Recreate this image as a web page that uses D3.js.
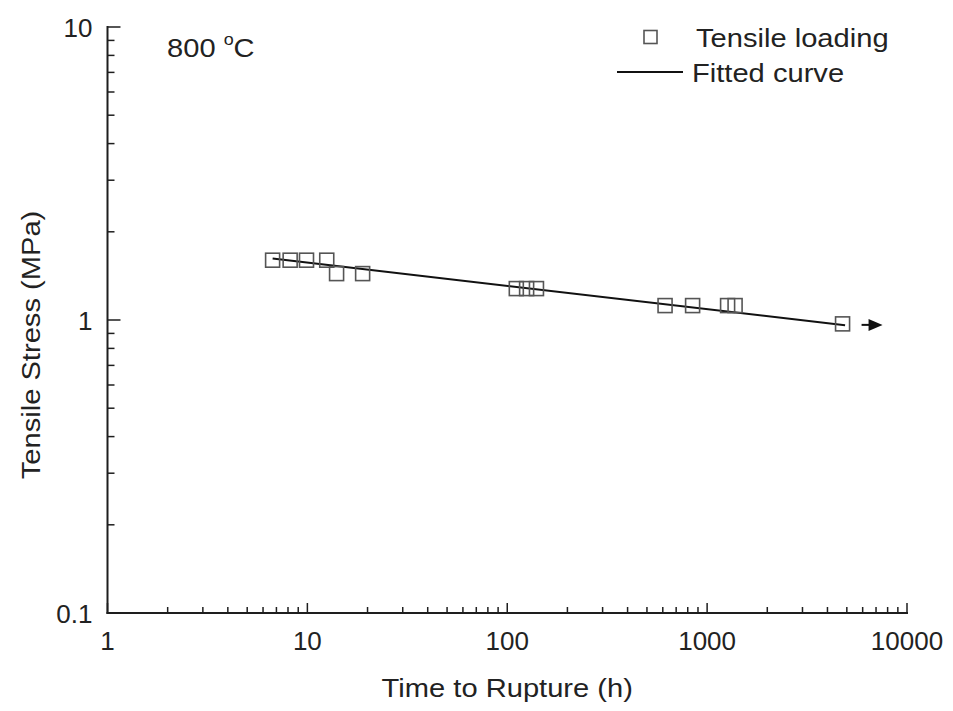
<!DOCTYPE html>
<html>
<head>
<meta charset="utf-8">
<script src="https://cdn.jsdelivr.net/npm/d3@7"></script>
<style>
  html, body { margin: 0; padding: 0; background: #fff; }
  svg { display: block; font-family: "Liberation Sans", Arial, Helvetica, sans-serif; }
</style>
</head>
<body>
<svg id="chart" width="953" height="711"></svg>
<script>
// Creep rupture data at 800 °C (tensile loading)
const ruptureTime = [6.7, 8.2, 9.9, 12.5, 14.0, 18.9, 111, 125, 140, 616, 846, 1266, 1380, 4760];
const ruptureStress = [1.60, 1.60, 1.60, 1.60, 1.44, 1.44, 1.28, 1.28, 1.28, 1.12, 1.12, 1.12, 1.12, 0.97];
// Last specimen did not fail (run-out)
const runoutIndex = [13];

// Power-law fitted curve (straight in log-log), end points
const fitTime = [6.7, 4900];
const fitStress = [1.62, 0.96];

const xTicks = [1, 10, 100, 1000, 10000];
const yTicks = [0.1, 1, 10];
const xTickLabels = ["1", "10", "100", "1000", "10000"];
const yTickLabels = ["0.1", "1", "10"];

const svg = d3.select("#chart");
const margin = { left: 107.5, right: 46, top: 27, bottom: 98 };
const W = 953, H = 711;

const x = d3.scaleLog().domain([1, 10000]).range([margin.left, W - margin.right]);
const y = d3.scaleLog().domain([0.1, 10]).range([H - margin.bottom, margin.top]);

const ink = "#1e1e1e";
const textInk = "#222";
const wide = 1.12; // slightly extended lettering for titles and legend

// minor tick values per decade
function minors(domain) {
  const out = [];
  for (let e = Math.log10(domain[0]); e < Math.log10(domain[1]); e++) {
    for (let k = 2; k <= 9; k++) out.push(k * Math.pow(10, e));
  }
  return out;
}

// text helper: extended lettering anchored at (tx, ty)
function label(parent, tx, ty, str, opts = {}) {
  const g = parent.append("g")
    .attr("transform", `translate(${tx},${ty}) rotate(${opts.rotate || 0}) scale(${wide},1)`);
  return g.append("text")
    .attr("text-anchor", opts.anchor || "start")
    .attr("font-size", opts.size || 26)
    .attr("fill", textInk)
    .text(str);
}

// bottom axis: ticks point inward (upward)
const gx = svg.append("g").attr("transform", `translate(0,${y(0.1)})`);
gx.append("line").attr("x1", x(1) - 1).attr("x2", x(10000) + 1)
  .attr("stroke", ink).attr("stroke-width", 2);
gx.selectAll("line.maj").data(xTicks).join("line").attr("class", "maj")
  .attr("x1", d => x(d)).attr("x2", d => x(d)).attr("y1", 0).attr("y2", -10)
  .attr("stroke", ink).attr("stroke-width", 1.5);
gx.selectAll("line.min").data(minors(x.domain())).join("line").attr("class", "min")
  .attr("x1", d => x(d)).attr("x2", d => x(d)).attr("y1", 0).attr("y2", -6)
  .attr("stroke", ink).attr("stroke-width", 1.5);
gx.selectAll("text").data(xTicks).join("text")
  .attr("x", d => x(d)).attr("y", 37).attr("text-anchor", "middle")
  .attr("font-size", 26).attr("fill", textInk)
  .text((d, i) => xTickLabels[i]);

// left axis: ticks point inward (right)
const gy = svg.append("g").attr("transform", `translate(${x(1)},0)`);
gy.append("line").attr("y1", y(0.1) + 1).attr("y2", y(10) - 1)
  .attr("stroke", ink).attr("stroke-width", 2);
gy.selectAll("line.maj").data(yTicks).join("line").attr("class", "maj")
  .attr("y1", d => y(d)).attr("y2", d => y(d)).attr("x1", 0).attr("x2", 13)
  .attr("stroke", ink).attr("stroke-width", 1.5);
gy.selectAll("line.min").data(minors(y.domain())).join("line").attr("class", "min")
  .attr("y1", d => y(d)).attr("y2", d => y(d)).attr("x1", 0).attr("x2", 7)
  .attr("stroke", ink).attr("stroke-width", 1.5);
gy.selectAll("text").data(yTicks).join("text")
  .attr("x", -15).attr("y", d => y(d) + 9.5).attr("text-anchor", "end")
  .attr("font-size", 26).attr("fill", textInk)
  .text((d, i) => yTickLabels[i]);

// axis titles
label(svg, x(100), 697, "Time to Rupture (h)", { anchor: "middle" });
label(svg, 40, 345, "Tensile Stress (MPa)", { anchor: "middle", rotate: -90 });

// fitted curve
const line = d3.line().x(d => x(d[0])).y(d => y(d[1]));
svg.append("path").datum(fitTime.map((t, i) => [t, fitStress[i]]))
  .attr("d", line).attr("fill", "none").attr("stroke", "#111").attr("stroke-width", 2);

// data markers (open squares)
const sq = 14;
svg.selectAll("rect.pt").data(ruptureTime.map((t, i) => [t, ruptureStress[i]]))
  .join("rect").attr("class", "pt")
  .attr("x", d => x(d[0]) - sq / 2).attr("y", d => y(d[1]) - sq / 2)
  .attr("width", sq).attr("height", sq)
  .attr("fill", "none").attr("stroke", "#555").attr("stroke-width", 1.6);

// run-out arrow
const ro = svg.selectAll("g.runout").data(runoutIndex).join("g").attr("class", "runout")
  .attr("transform", i => `translate(${x(ruptureTime[i])},${y(ruptureStress[i]) + 1})`);
ro.append("line").attr("x1", 19).attr("x2", 28).attr("y1", 0).attr("y2", 0)
  .attr("stroke", "#111").attr("stroke-width", 2);
ro.append("path").attr("d", "M26,-6 L40,0 L26,6 Z").attr("fill", "#111");

// temperature annotation
const ann = label(svg, 167, 57, "");
ann.append("tspan").text("800 ");
ann.append("tspan").attr("font-size", 16).attr("dy", -12).text("o");
ann.append("tspan").attr("dy", 12).text("C");

// legend
const lg = svg.append("g");
lg.append("rect").attr("x", 644).attr("y", 30.5).attr("width", 13).attr("height", 13)
  .attr("fill", "none").attr("stroke", "#555").attr("stroke-width", 1.6);
label(lg, 696, 47, "Tensile loading");
lg.append("line").attr("x1", 617).attr("x2", 683).attr("y1", 72).attr("y2", 72)
  .attr("stroke", "#111").attr("stroke-width", 2);
label(lg, 692, 82, "Fitted curve");
</script>
</body>
</html>
